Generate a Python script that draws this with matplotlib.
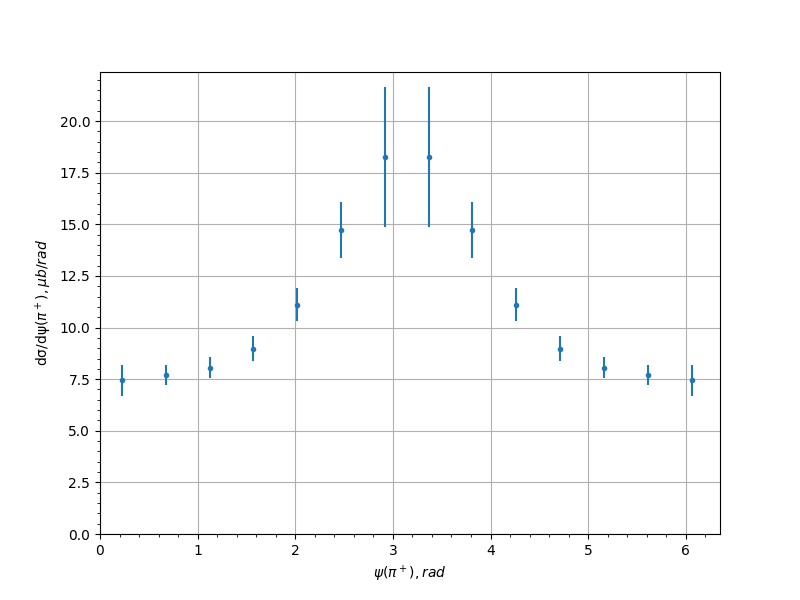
import numpy as np
import matplotlib
matplotlib.use("Agg")
import matplotlib.pyplot as plt

n_bins = 14
psi = (np.arange(n_bins) + 0.5) * 2 * np.pi / n_bins
xsec = [7.44, 7.71, 8.05, 8.97, 11.11, 14.72, 18.25, 18.25, 14.72, 11.11, 8.97, 8.05, 7.71, 7.44]
err = [0.77, 0.50, 0.50, 0.60, 0.79, 1.34, 3.38, 3.38, 1.34, 0.79, 0.60, 0.50, 0.50, 0.77]

fig, ax = plt.subplots(figsize=(8, 6), dpi=100)
ax.errorbar(psi, xsec, yerr=err, fmt='.')
ax.set_xlim(left=0)
ax.set_ylim(bottom=0)
ax.minorticks_on()
ax.grid(True, which='major')
ax.set_xlabel(r'$\psi(\pi^+), rad$')
ax.set_ylabel(r'dσ/dψ$(\pi^+), \mu b/rad$')
fig.savefig('out.png', dpi=100)
